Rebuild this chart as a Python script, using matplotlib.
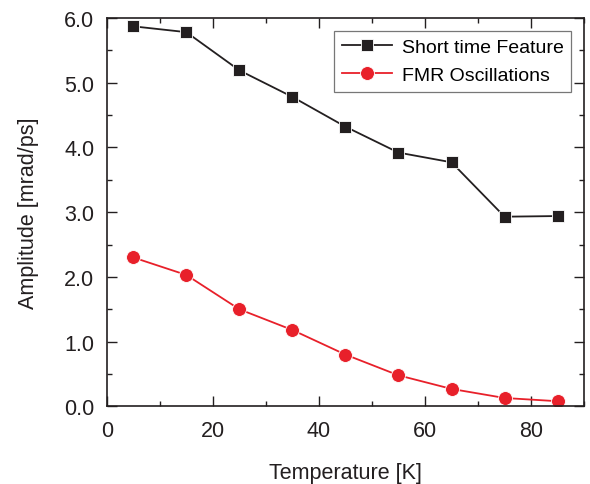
import matplotlib.pyplot as plt
from matplotlib.ticker import MultipleLocator, FormatStrFormatter

plt.rcParams['font.family'] = ['Liberation Sans', 'DejaVu Sans']

# Data
temperature = [5, 15, 25, 35, 45, 55, 65, 75, 85]
short_time = [5.87, 5.78, 5.19, 4.78, 4.32, 3.92, 3.77, 2.93, 2.94]
fmr = [2.30, 2.03, 1.50, 1.18, 0.80, 0.48, 0.27, 0.13, 0.08]

black = '#231f20'
red = '#e8202a'

fig = plt.figure(figsize=(5.9, 4.85), dpi=100)
ax = fig.add_axes([0.181, 0.16, 0.809, 0.801])

ax.plot(temperature, short_time, color=black, lw=1.3, marker='s', ms=8.5,
        mfc=black, mec='white', mew=0.6, label='Short time Feature')
ax.plot(temperature, fmr, color=red, lw=1.3, marker='o', ms=10,
        mfc=red, mec='white', mew=0.6, label='FMR Oscillations')

ax.set_xlim(0, 90)
ax.set_ylim(0, 6)
ax.xaxis.set_major_locator(MultipleLocator(20))
ax.xaxis.set_minor_locator(MultipleLocator(10))
ax.yaxis.set_major_locator(MultipleLocator(1))
ax.yaxis.set_minor_locator(MultipleLocator(0.5))
ax.yaxis.set_major_formatter(FormatStrFormatter('%.1f'))

ax.tick_params(which='both', direction='in', top=True, right=True, colors=black,
               labelsize=15.5, width=1.0)
ax.tick_params(which='major', length=7)
ax.tick_params(axis='x', which='major', pad=10)
ax.tick_params(axis='y', which='major', pad=9)
ax.tick_params(which='minor', length=3.5)
for s in ax.spines.values():
    s.set_linewidth(1.2)
    s.set_color(black)

ax.set_xlabel('Temperature [K]', fontsize=15.5, color=black, labelpad=15)
ax.set_ylabel('Amplitude [mrad/ps]', fontsize=15.5, color=black, labelpad=18)

leg = ax.legend(loc='upper right', fontsize=14, frameon=True, fancybox=False,
                edgecolor='#555555', borderpad=0.4, labelspacing=0.55,
                handlelength=2.6, handletextpad=0.5, borderaxespad=0.65)
leg.get_frame().set_linewidth(0.9)

fig.savefig('out.png', dpi=100)
